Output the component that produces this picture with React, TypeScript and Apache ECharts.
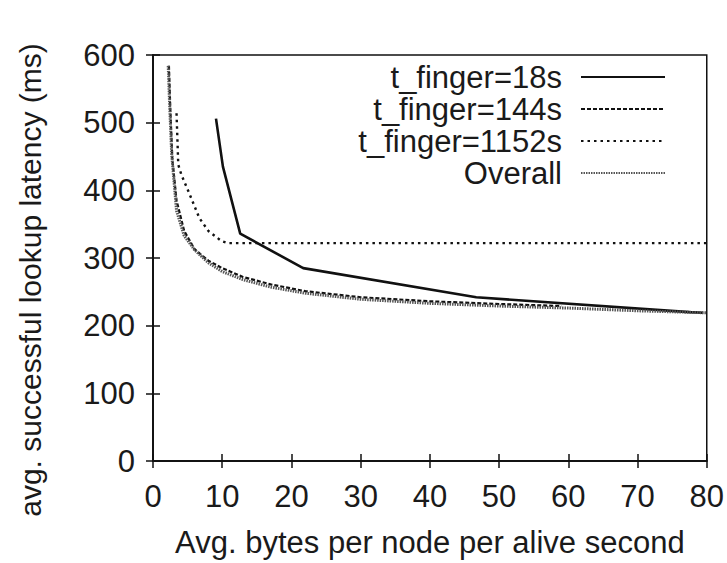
import React, { useEffect, useRef } from "react";
import * as echarts from "echarts";

const xTicks = [0, 10, 20, 30, 40, 50, 60, 70, 80];
const yTicks = [0, 100, 200, 300, 400, 500, 600];

const seriesNames = ["t_finger=18s", "t_finger=144s", "t_finger=1152s", "Overall"];

const x18 = [9.1, 10.1, 12.6, 21.7, 46.7, 77.5, 79.5];
const y18 = [506, 435, 336, 285, 242, 220, 219];

const x144 = [2.3, 2.5, 2.8, 3.4, 4.5, 6, 8, 10, 13, 17, 22, 30, 40, 50, 59];
const y144 = [584, 520, 445, 385, 340, 313, 296, 285, 272, 261, 251, 242, 236, 232, 229];

const x1152 = [3.4, 3.65, 4.1, 5.1, 6.7, 8.0, 9.9, 10.8, 80];
const y1152 = [514, 438, 423, 399, 359, 340, 325, 322, 322];

const xAll = [2.2, 2.4, 2.7, 3.4, 4.5, 6, 8, 10, 13, 17, 22, 30, 40, 50, 60, 70, 80];
const yAll = [584, 527, 453, 370, 333, 312, 293, 280, 268, 257, 248, 239, 233, 229, 226, 222, 219];

const zip = (xs: number[], ys: number[]) => xs.map((x, i) => [x, ys[i]]);

const FONT = "Liberation Sans";

export default function App() {
  const ref = useRef<HTMLDivElement>(null);
  useEffect(() => {
    if (!ref.current) return;
    const chart = echarts.init(ref.current, null, { renderer: "svg" });
    const axisLine = { show: true, lineStyle: { color: "#111", width: 1.5 } };
    const tick = { show: true, inside: true, length: 7, lineStyle: { color: "#111", width: 1.5 } };
    const label = { fontFamily: FONT, fontSize: 31, color: "#1a1a1a" };
    chart.setOption({
      animation: false,
      backgroundColor: "#fff",
      grid: { left: 153, right: 20, top: 55, bottom: 101, show: true, borderColor: "#111", borderWidth: 1.5 },
      legend: {
        data: seriesNames,
        orient: "vertical",
        align: "right",
        right: 61,
        top: 61,
        padding: 0,
        itemGap: 0,
        itemWidth: 84,
        itemHeight: 14,
        itemStyle: { color: "transparent", borderWidth: 0, opacity: 0 },
        textStyle: { fontFamily: FONT, fontSize: 31, color: "#1a1a1a", lineHeight: 32, padding: [0, 14, 0, 0] },
      },
      xAxis: [
        {
          type: "value",
          min: 0,
          max: 80,
          interval: 10,
          position: "bottom",
          axisLine,
          axisTick: tick,
          splitLine: { show: false },
          axisLabel: { ...label, margin: 20, formatter: (v: number) => (xTicks.includes(v) ? String(v) : "") },
          name: "Avg. bytes per node per alive second",
          nameLocation: "middle",
          nameGap: 66,
          nameTextStyle: { fontFamily: FONT, fontSize: 31, color: "#1a1a1a" },
        },
        {
          type: "value",
          min: 0,
          max: 80,
          interval: 10,
          position: "top",
          axisLine,
          axisTick: tick,
          splitLine: { show: false },
          axisLabel: { show: false },
        },
      ],
      yAxis: [
        {
          type: "value",
          min: 0,
          max: 600,
          interval: 100,
          position: "left",
          axisLine,
          axisTick: tick,
          splitLine: { show: false },
          axisLabel: { ...label, margin: 18, formatter: (v: number) => (yTicks.includes(v) ? String(v) : "") },
        },
        {
          type: "value",
          min: 0,
          max: 600,
          interval: 100,
          position: "right",
          axisLine,
          axisTick: tick,
          splitLine: { show: false },
          axisLabel: { show: false },
        },
      ],
      graphic: [
        {
          type: "text",
          x: 30,
          y: 280,
          rotation: Math.PI / 2,
          style: {
            text: "avg. successful lookup latency (ms)",
            fontFamily: FONT,
            fontSize: 30,
            fill: "#1a1a1a",
            align: "center",
            verticalAlign: "middle",
          },
        },
      ],
      series: [
        {
          name: seriesNames[0],
          type: "line",
          symbol: "none",
          data: zip(x18, y18),
          lineStyle: { color: "#111", width: 2.6, type: "solid" },
          itemStyle: { color: "#111" },
        },
        {
          name: seriesNames[1],
          type: "line",
          symbol: "none",
          data: zip(x144, y144),
          lineStyle: { color: "#111", width: 2.2, type: [4, 2] },
          itemStyle: { color: "#111" },
        },
        {
          name: seriesNames[2],
          type: "line",
          symbol: "none",
          data: zip(x1152, y1152),
          lineStyle: { color: "#111", width: 2.4, type: [2.5, 4] },
          itemStyle: { color: "#111" },
        },
        {
          name: seriesNames[3],
          type: "line",
          symbol: "none",
          data: zip(xAll, yAll),
          lineStyle: { color: "#555", width: 3, type: [1.5, 1] },
          itemStyle: { color: "#555" },
        },
      ],
    });
    return () => chart.dispose();
  }, []);
  return <div ref={ref} style={{ width: 727, height: 563, position: "absolute", left: 0, top: 0 }} />;
}
